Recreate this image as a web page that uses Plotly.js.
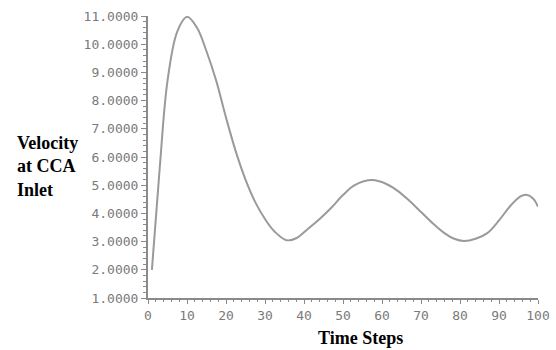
<!DOCTYPE html>
<html>
<head>
<meta charset="utf-8">
<script src="https://cdn.plot.ly/plotly-3.0.1.min.js"></script>
<style>html,body{margin:0;padding:0;background:#fff;}#chart{width:556px;height:350px;}</style>
</head>
<body>
<div id="chart"></div>
<script>
var timeSteps = [1, 3, 5, 7.5, 10, 12.5, 15, 17.5, 20, 22.5, 25, 27.5, 30, 32.5, 35.5, 38, 41, 44, 47, 50, 53, 57.5, 61, 64, 67, 70, 73, 76, 78.5, 81, 84, 87, 90, 93, 95.5, 97, 98.8, 100];
var velocity  = [2.0, 5.6, 8.7, 10.45, 10.97, 10.6, 9.75, 8.7, 7.4, 6.2, 5.2, 4.4, 3.8, 3.35, 3.05, 3.12, 3.45, 3.8, 4.2, 4.65, 5.0, 5.18, 5.05, 4.8, 4.45, 4.05, 3.65, 3.3, 3.1, 3.02, 3.1, 3.3, 3.75, 4.28, 4.6, 4.66, 4.52, 4.24];
var xTitle = "Time Steps";
var yTitle = "Velocity<br>at CCA<br>Inlet";

var axisColor = "#8a8a8a";
var tickFont = {family: "DejaVu Sans Mono", size: 13, color: "#7a7a7a"};

Plotly.newPlot("chart", [{
  x: timeSteps, y: velocity, type: "scatter", mode: "lines",
  line: {color: "#9a9a9a", width: 2, shape: "spline", smoothing: 1},
  hoverinfo: "none"
}], {
  width: 556, height: 350,
  margin: {l: 148, r: 18, t: 16, b: 52},
  paper_bgcolor: "#fff", plot_bgcolor: "#fff",
  showlegend: false,
  xaxis: {
    range: [0, 100], dtick: 10, tick0: 0,
    showgrid: false, zeroline: false,
    showline: true, linecolor: axisColor, linewidth: 2,
    ticks: "outside", ticklen: 4, tickcolor: axisColor, tickwidth: 1,
    minor: {dtick: 2, ticks: "outside", ticklen: 2, tickcolor: axisColor},
    tickfont: tickFont
  },
  yaxis: {
    range: [1, 11], dtick: 1, tick0: 1, tickformat: ".4f",
    showgrid: false, zeroline: false,
    showline: true, linecolor: axisColor, linewidth: 2,
    ticks: "outside", ticklen: 5, tickcolor: axisColor, tickwidth: 1,
    minor: {dtick: 0.2, ticks: "outside", ticklen: 3, tickcolor: axisColor},
    tickfont: tickFont
  },
  annotations: [
    {text: "<b>" + xTitle + "</b>", xref: "paper", yref: "paper", x: 0.544, y: -0.142,
     xanchor: "center", yanchor: "middle", showarrow: false,
     font: {family: "Liberation Serif", size: 18, color: "#000"}},
    {text: "<b>" + yTitle + "</b>", xref: "paper", yref: "paper", x: -0.341, y: 0.468,
     xanchor: "left", yanchor: "middle", align: "left", showarrow: false,
     font: {family: "Liberation Serif", size: 18, color: "#000"}}
  ]
}, {displayModeBar: false, staticPlot: true});
</script>
</body>
</html>
